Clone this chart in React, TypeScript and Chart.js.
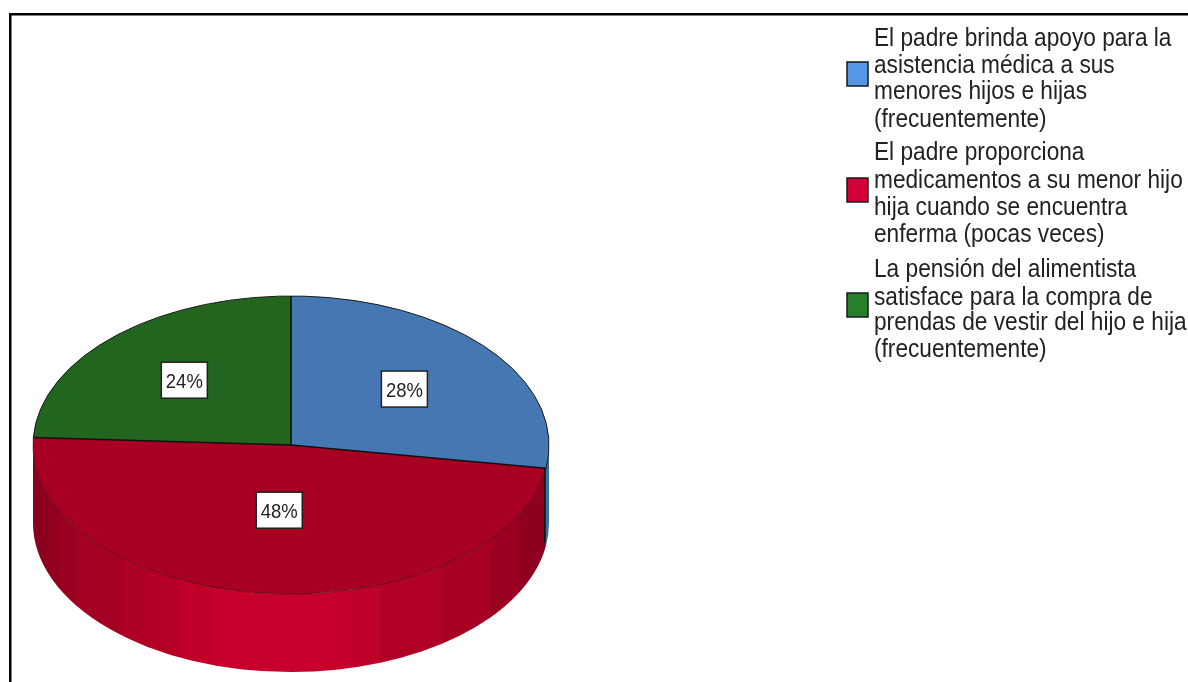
import React, { useEffect, useRef } from "react";
import { Chart, registerables } from "chart.js";

Chart.register(...registerables);

const legendLines: string[][] = [
  ["El padre brinda apoyo para la", "asistencia médica a sus", "menores hijos e hijas", "(frecuentemente)"],
  ["El padre proporciona", "medicamentos a su menor hijo", "hija cuando se encuentra", "enferma (pocas veces)"],
  ["La pensión del alimentista", "satisface para la compra de", "prendas de vestir del hijo e hija", "(frecuentemente)"],
];
const categories = legendLines.map((l) => l.join(" "));
const shares = [27.5, 48.3, 24.2];
const topColors = ["#4577b2", "#a80022", "#21651f"];
const swatchColors = ["#5597e6", "#d20036", "#26802a"];
const sideColors = ["#3d6ba3", "#a80022", "#1c5a1b"];
const labelRadii = [0.578, 0.44, 0.6];

const FONT = '"Liberation Sans", Arial, sans-serif';
const RADIUS = 258;
const SQUASH = 149 / 258;
const DEPTH = 78;
const redBands: [number, string][] = [
  [33, "#8a001e"], [47, "#93001f"], [60, "#9a0020"], [77, "#a30022"], [122, "#ad0024"],
  [150, "#b50026"], [180, "#c00029"], [212, "#c6002b"], [350, "#bf0029"], [380, "#b00025"],
  [442, "#a70023"], [490, "#9c0021"], [520, "#8e001f"],
];
const legendBaselines = [
  [46, 73, 99, 127],
  [160, 188, 215, 242],
  [277, 305, 330, 357],
];
const swatchTops = [62, 178, 293];

function squeezedText(ctx: CanvasRenderingContext2D, text: string, x: number, y: number, sx: number) {
  ctx.save();
  ctx.translate(x, y);
  ctx.scale(sx, 1);
  ctx.fillText(text, 0, 0);
  ctx.restore();
}

const pie3d = {
  id: "pie3d",
  beforeDraw(chart: any) {
    const { ctx } = chart;
    ctx.save();
    ctx.fillStyle = "#000";
    ctx.fillRect(9, 13, 1179, 2.5);
    ctx.fillRect(9, 13, 2.5, 669);
    ctx.restore();
  },
  beforeDatasetsDraw(chart: any) {
    const { ctx } = chart;
    const arcs = chart.getDatasetMeta(0).data;
    const cx = arcs[0].x;
    const cy = arcs[0].y;
    const ry = RADIUS * SQUASH;
    ctx.save();
    arcs.forEach((arc: any, i: number) => {
      const a = Math.max(arc.startAngle, 0);
      const b = Math.min(arc.endAngle, Math.PI);
      if (b <= a) return;
      ctx.beginPath();
      ctx.ellipse(cx, cy, RADIUS, ry, 0, a, b);
      ctx.ellipse(cx, cy + DEPTH, RADIUS, ry, 0, b, a, true);
      ctx.closePath();
      if (i === 1) {
        const g = ctx.createLinearGradient(33, 0, 549, 0);
        redBands.forEach(([x, c], k) => {
          const next = k + 1 < redBands.length ? redBands[k + 1][0] : 549;
          g.addColorStop((x - 33) / 516, c);
          g.addColorStop((next - 33) / 516, c);
        });
        ctx.fillStyle = g;
      } else {
        ctx.fillStyle = sideColors[i];
      }
      ctx.fill();
    });
    ctx.restore();
    ctx.save();
    ctx.translate(cx, cy);
    ctx.scale(1, SQUASH);
    ctx.translate(-cx, -cy);
  },
  afterDatasetsDraw(chart: any) {
    const { ctx } = chart;
    ctx.restore();
    const arcs = chart.getDatasetMeta(0).data;
    const cx = arcs[0].x;
    const cy = arcs[0].y;
    const ry = RADIUS * SQUASH;
    ctx.save();
    ctx.strokeStyle = "#1a1a1a";
    ctx.lineWidth = 1;
    ctx.beginPath();
    ctx.ellipse(cx, cy, RADIUS, ry, 0, arcs[2].startAngle, arcs[0].endAngle);
    ctx.stroke();
    ctx.strokeStyle = "#5a0012";
    ctx.lineWidth = 0.8;
    ctx.beginPath();
    ctx.ellipse(cx, cy, RADIUS, ry, 0, arcs[0].endAngle, arcs[1].endAngle);
    ctx.stroke();
    ctx.strokeStyle = "#111";
    ctx.lineWidth = 1.6;
    arcs.forEach((arc: any) => {
      ctx.beginPath();
      ctx.moveTo(cx, cy);
      ctx.lineTo(cx + RADIUS * Math.cos(arc.startAngle), cy + ry * Math.sin(arc.startAngle));
      ctx.stroke();
    });
    const e = arcs[0].endAngle;
    ctx.beginPath();
    ctx.moveTo(cx + RADIUS * Math.cos(e) - 1, cy + ry * Math.sin(e));
    ctx.lineTo(cx + RADIUS * Math.cos(e) - 1, cy + ry * Math.sin(e) + DEPTH - 3);
    ctx.stroke();
    // value labels
    ctx.font = `21px ${FONT}`;
    ctx.textAlign = "center";
    ctx.textBaseline = "middle";
    arcs.forEach((arc: any, i: number) => {
      const mid = (arc.startAngle + arc.endAngle) / 2;
      const x = cx + RADIUS * labelRadii[i] * Math.cos(mid);
      const y = cy + ry * labelRadii[i] * Math.sin(mid);
      ctx.fillStyle = "#fff";
      ctx.strokeStyle = "#222";
      ctx.lineWidth = 1.5;
      ctx.fillRect(x - 23, y - 18, 46, 36);
      ctx.strokeRect(x - 23, y - 18, 46, 36);
      ctx.fillStyle = "#222";
      squeezedText(ctx, `${Math.round(shares[i])}%`, x, y + 2, 0.88);
    });
    // legend
    ctx.textAlign = "left";
    ctx.textBaseline = "alphabetic";
    ctx.font = `26px ${FONT}`;
    legendLines.forEach((lines, i) => {
      ctx.fillStyle = swatchColors[i];
      ctx.strokeStyle = "#1a1a1a";
      ctx.lineWidth = 1.5;
      ctx.fillRect(847, swatchTops[i], 21, 24);
      ctx.strokeRect(847, swatchTops[i], 21, 24);
      ctx.fillStyle = "#222";
      lines.forEach((line, j) => squeezedText(ctx, line, 874, legendBaselines[i][j], 0.872));
    });
    ctx.restore();
  },
};

export default function App() {
  const ref = useRef<HTMLCanvasElement>(null);
  useEffect(() => {
    const chart = new Chart(ref.current!, {
      type: "pie",
      data: {
        labels: categories,
        datasets: [
          {
            data: shares,
            backgroundColor: topColors,
            borderWidth: 0,
            radius: RADIUS,
            clip: false,
          } as any,
        ],
      },
      options: {
        responsive: false,
        animation: false,
        layout: { padding: { left: 33, right: 639, top: 208, bottom: 0 } },
        plugins: { legend: { display: false }, tooltip: { enabled: false } },
      },
      plugins: [pie3d],
    });
    return () => chart.destroy();
  }, []);
  return (
    <div style={{ position: "fixed", left: 0, top: 0, width: 1188, height: 682, background: "#fff", overflow: "hidden" }}>
      <canvas ref={ref} width={1188} height={682} style={{ display: "block" }} />
    </div>
  );
}
